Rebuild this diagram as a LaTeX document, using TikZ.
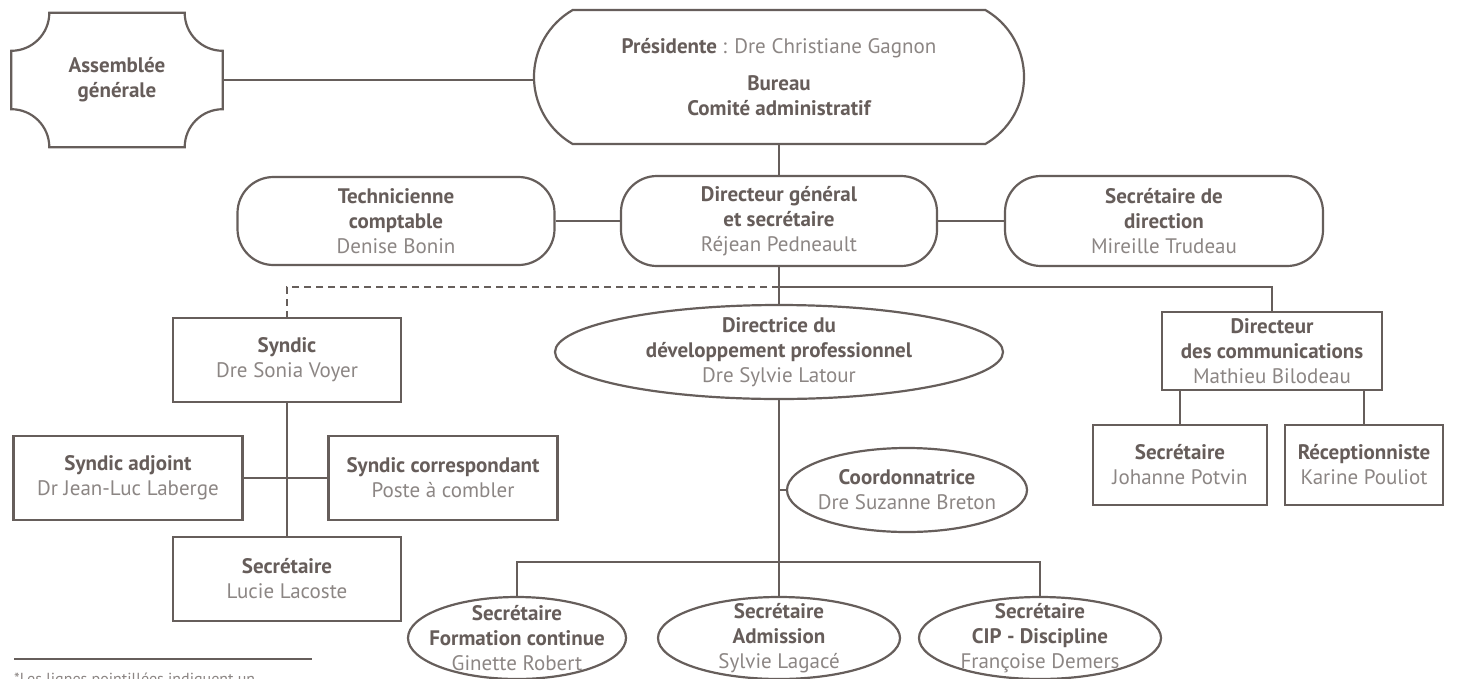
\documentclass[tikz,border=0pt]{standalone}
\usepackage{fontspec}
\setmainfont{PT Sans}
\usetikzlibrary{shapes.misc, shapes.geometric}

\definecolor{linegrey}{HTML}{665E5B}
\definecolor{titlegrey}{HTML}{665D5A}
\definecolor{namegrey}{HTML}{8C8684}

\newcommand{\who}[1]{{\mdseries\color{namegrey}#1}}

\tikzset{
  unit/.style = {align = center, font = \fontsize{21}{25}\selectfont\bfseries, text = titlegrey, inner sep = 0pt},
  boxed/.style = {unit, shape = rectangle, draw = linegrey, line width = 2.2pt},
  pill/.style = {unit, shape = rectangle, rounded corners = 36pt, draw = linegrey, line width = 2.2pt},
  oval/.style = {shape = ellipse, draw = linegrey, line width = 2.2pt, inner sep = 0pt},
  link/.style = {draw = linegrey, line width = 2.2pt},
}

\begin{document}
\begin{tikzpicture}[x = 1pt, y = -1pt]
        \useasboundingbox[fill = white] (0, 0) rectangle (1461, 678);

        % ------------------------------------------------------------------------
        % Top
        \node[unit, minimum width = 211, minimum height = 134] at (117, 80) (ag) {Assemblée\\générale};
        \draw[link]
          ([yshift = -38pt] ag.north west) .. controls +(21, 0) and +(0, 21) .. ([xshift = 38pt] ag.north west)
          -- ([xshift = -38pt] ag.north east) .. controls +(0, 21) and +(-21, 0) .. ([yshift = -38pt] ag.north east)
          -- ([yshift = 38pt] ag.south east) .. controls +(-21, 0) and +(0, -21) .. ([xshift = -38pt] ag.south east)
          -- ([xshift = 38pt] ag.south west) .. controls +(0, -21) and +(21, 0) .. ([yshift = 38pt] ag.south west)
          -- cycle;

        \node[unit, shape = rounded rectangle, rounded rectangle arc length = 120, draw = linegrey, line width = 2.2pt,
              minimum width = 490, minimum height = 134] at (779, 77) (pres)
          {Présidente \who{: Dre Christiane Gagnon}\\[12pt] Bureau\\Comité administratif};

        % ------------------------------------------------------------------------
        % Direction
        \node[pill, minimum width = 317, minimum height = 88] at (396, 221) (tech) {Technicienne\\comptable\\\who{Denise Bonin}};
        \node[pill, minimum width = 316, minimum height = 90] at (779, 221) (dg) {Directeur général\\et secrétaire\\\who{Réjean Pedneault}};
        \node[pill, minimum width = 318, minimum height = 90] at (1164, 221) (sd) {Secrétaire de\\direction\\\who{Mireille Trudeau}};

        \coordinate (split) at (779, 287);

        % ------------------------------------------------------------------------
        % Syndic
        \node[boxed, minimum width = 228, minimum height = 84] at (287, 360) (syn) {Syndic\\\who{Dre Sonia Voyer}};
        \node[boxed, minimum width = 229, minimum height = 84] at (128, 478) (adj) {Syndic adjoint\\\who{Dr Jean-Luc Laberge}};
        \node[boxed, minimum width = 229, minimum height = 84] at (443, 478) (corr) {Syndic correspondant\\\who{Poste à combler}};
        \node[boxed, minimum width = 228, minimum height = 84] at (287, 579) (lucie) {Secrétaire\\\who{Lucie Lacoste}};

        % ------------------------------------------------------------------------
        % Développement professionnel
        \node[oval, minimum width = 448, minimum height = 94] at (779, 352) (dev) {};
        \node[unit] at (dev) (dev-t) {Directrice du\\développement professionnel\\\who{Dre Sylvie Latour}};

        \node[oval, minimum width = 240, minimum height = 84] at (907, 490) (coord) {};
        \node[unit] at (coord) (coord-t) {Coordonnatrice\\\who{Dre Suzanne Breton}};

        \coordinate (split2) at (779, 562);

        \node[oval, minimum width = 218, minimum height = 82] at (517, 638) (fc) {};
        \node[unit] at (fc) (fc-t) {Secrétaire\\Formation continue\\\who{Ginette Robert}};
        \node[oval, minimum width = 242, minimum height = 82] at (779, 638) (adm) {};
        \node[unit] at (adm) (adm-t) {Secrétaire\\Admission\\\who{Sylvie Lagacé}};
        \node[oval, minimum width = 242, minimum height = 82] at (1040, 638) (cip) {};
        \node[unit] at (cip) (cip-t) {Secrétaire\\CIP - Discipline\\\who{Françoise Demers}};

        % ------------------------------------------------------------------------
        % Communications
        \node[boxed, minimum width = 220, minimum height = 78] at (1272, 351) (com) {Directeur\\des communications\\\who{Mathieu Bilodeau}};
        \node[boxed, minimum width = 174, minimum height = 80] at (1180, 465) (sec) {Secrétaire\\\who{Johanne Potvin}};
        \node[boxed, minimum width = 158, minimum height = 80] at (1364, 465) (recep) {Réceptionniste\\\who{Karine Pouliot}};

        % ------------------------------------------------------------------------
        % Links
        \draw[link]
          (ag.east) edge (ag.east -| pres.west)
          (pres.south) edge (dg.north)
          (tech.east) edge (dg.west)
          (dg.east) edge (sd.west)
          (dg.south) edge (dev.north)
          (syn.south) edge (lucie.north)
          (adj.east) edge (corr.west)
          (dev.south) edge (adm.north)
          (coord.west) edge (coord.west -| dev.south)
          (sec.north) edge (sec.north |- com.south)
          (recep.north) edge (recep.north |- com.south)
        ;
        \draw[link, dash pattern = on 7pt off 5pt] (split) -| (syn.north);
        \draw[link] (split) -| (com.north);
        \draw[link] (fc.north) |- (split2) -| (cip.north);

        % ------------------------------------------------------------------------
        % Note
        \draw[linegrey, line width = 1.2pt] (14, 659) -- (312, 659);
        \node[anchor = north west, inner sep = 0pt, font = \fontsize{16}{18}\selectfont, text = namegrey] at (14, 673) (note)
          {*Les lignes pointillées indiquent un};
      \end{tikzpicture}
\end{document}
